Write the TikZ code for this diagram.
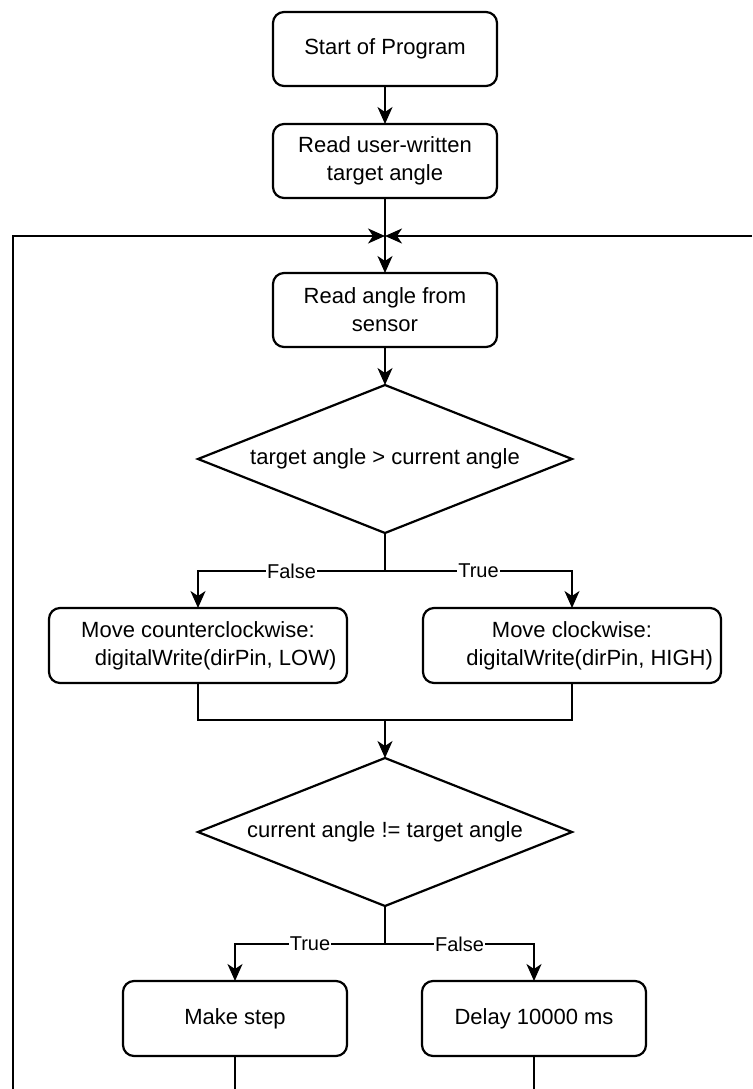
\documentclass[tikz,border=0pt]{standalone}
\usepackage{fontspec}
\setmainfont{Liberation Sans}
\usetikzlibrary{positioning,shapes.geometric,arrows.meta,calc}

\begin{document}
\begin{tikzpicture}[x=1pt,y=1pt]
\tikzset{every node/.style={font=\fontsize{22}{28}\selectfont}}
\tikzset{wire/.style={line width=2.2pt}}
\tikzset{arr/.style={wire,-{Stealth[length=17pt,width=15pt,inset=5pt]}}}
\tikzset{proc/.style={draw,wire,rounded corners=11pt,align=center,minimum width=224pt,minimum height=74pt,inner sep=0pt,outer sep=0pt}}
\tikzset{decide/.style={draw,wire,diamond,aspect=2.5,minimum width=374pt,minimum height=148pt,inner sep=0pt,outer sep=0pt}}
\tikzset{lbl/.style={fill=white,inner sep=1pt,font=\fontsize{20}{22}\selectfont}}
\useasboundingbox (0,0) rectangle (752,-1089);
\node[proc] (start) at (385,-49) {Start of Program};
\node[proc,below=38pt of start] (readuser) {Read user-written\\target angle};
\coordinate[below=38pt of readuser] (join);
\node[proc,below=75pt of readuser] (readsensor) {Read angle from\\sensor};
\node[decide,below=38pt of readsensor] (cmp1) {target angle > current angle};
\coordinate[below=38pt of cmp1] (br1);
\node[proc,minimum width=298pt,minimum height=75pt,below=75pt of cmp1,xshift=-187pt] (ccw) {Move counterclockwise:\\\hspace*{1.6em}digitalWrite(dirPin, LOW)};
\node[proc,minimum width=298pt,minimum height=75pt,below=75pt of cmp1,xshift=187pt] (cw) {Move clockwise:\\\hspace*{1.6em}digitalWrite(dirPin, HIGH)};
\coordinate (mrg) at ($(ccw.south -| cmp1)+(0,-37)$);
\node[decide,below=38pt of mrg] (cmp2) {current angle != target angle};
\coordinate[below=38pt of cmp2] (br2);
\node[proc,minimum height=75pt,below=75pt of cmp2,xshift=-150pt] (step) {Make step};
\node[proc,minimum height=75pt,below=75pt of cmp2,xshift=149pt] (delay) {Delay 10000 ms};
\coordinate (loopL) at (13,-1089);
\coordinate (loopR) at ($(join)+(367,0)$);
\coordinate (stepEnd) at (step.south |- loopL);
\coordinate (delayEnd) at (delay.south |- loopL);
\draw[arr] (start) -- (readuser);
\draw[arr] (readuser) -- (readsensor);
\draw[arr] (readsensor) -- (cmp1);
\draw[wire] (cmp1) -- (br1);
\draw[arr] (br1) -| node[lbl,pos=0.25]{False} (ccw);
\draw[arr] (br1) -| node[lbl,pos=0.25]{True} (cw);
\draw[wire] (ccw) |- (mrg) -| (cw);
\draw[arr] (mrg) -- (cmp2);
\draw[wire] (cmp2) -- (br2);
\draw[arr] (br2) -| node[lbl,pos=0.25]{True} (step);
\draw[arr] (br2) -| node[lbl,pos=0.25]{False} (delay);
\draw[wire] (step) -- (stepEnd);
\draw[wire] (delay) -- (delayEnd);
\draw[arr] (loopL) |- (join);
\draw[arr] (loopR) -- (join);
\end{tikzpicture}
\end{document}
